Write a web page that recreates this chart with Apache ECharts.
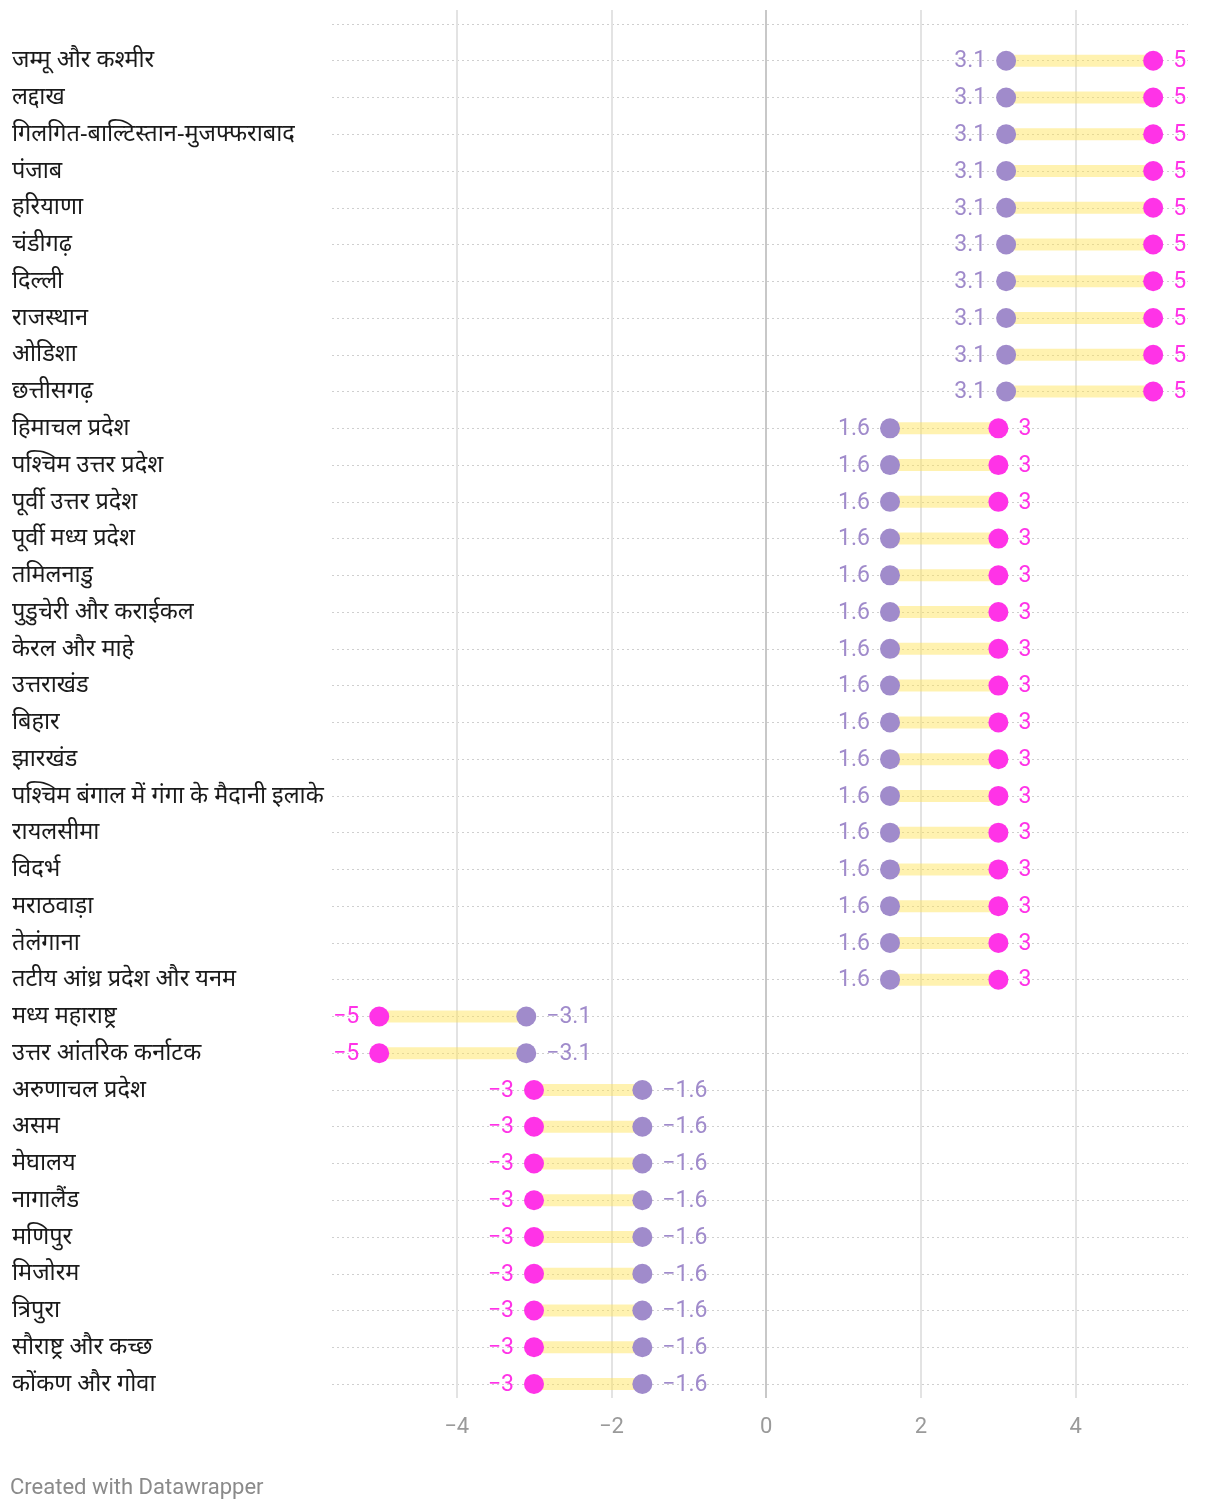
<!DOCTYPE html>
<html>
<head>
<meta charset="utf-8">
<script src="https://cdn.jsdelivr.net/npm/echarts@6/dist/echarts.min.js"></script>
<style>
  html, body { margin: 0; padding: 0; background: #fff; }
  #chart { width: 1220px; height: 1512px; }
</style>
</head>
<body>
<div id="chart"></div>
<script>
// Categories, top to bottom
const regions = [
  'जम्मू और कश्मीर', 'लद्दाख', 'गिलगित-बाल्टिस्तान-मुजफ्फराबाद', 'पंजाब', 'हरियाणा',
  'चंडीगढ़', 'दिल्ली', 'राजस्थान', 'ओडिशा', 'छत्तीसगढ़',
  'हिमाचल प्रदेश', 'पश्चिम उत्तर प्रदेश', 'पूर्वी उत्तर प्रदेश', 'पूर्वी मध्य प्रदेश', 'तमिलनाडु',
  'पुडुचेरी और कराईकल', 'केरल और माहे', 'उत्तराखंड', 'बिहार', 'झारखंड',
  'पश्चिम बंगाल में गंगा के मैदानी इलाके', 'रायलसीमा', 'विदर्भ', 'मराठवाड़ा', 'तेलंगाना',
  'तटीय आंध्र प्रदेश और यनम', 'मध्य महाराष्ट्र', 'उत्तर आंतरिक कर्नाटक', 'अरुणाचल प्रदेश', 'असम',
  'मेघालय', 'नागालैंड', 'मणिपुर', 'मिजोरम', 'त्रिपुरा',
  'सौराष्ट्र और कच्छ', 'कोंकण और गोवा'
];
// Purple (inner) values
const innerValues = [
  3.1, 3.1, 3.1, 3.1, 3.1, 3.1, 3.1, 3.1, 3.1, 3.1,
  1.6, 1.6, 1.6, 1.6, 1.6, 1.6, 1.6, 1.6, 1.6, 1.6,
  1.6, 1.6, 1.6, 1.6, 1.6, 1.6,
  -3.1, -3.1,
  -1.6, -1.6, -1.6, -1.6, -1.6, -1.6, -1.6, -1.6, -1.6
];
// Magenta (outer) values
const outerValues = [
  5, 5, 5, 5, 5, 5, 5, 5, 5, 5,
  3, 3, 3, 3, 3, 3, 3, 3, 3, 3,
  3, 3, 3, 3, 3, 3,
  -5, -5,
  -3, -3, -3, -3, -3, -3, -3, -3, -3
];
const xTicks = [-4, -2, 0, 2, 4];

const PURPLE = '#a08bcb';
const MAGENTA = '#ff33e7';
const fmt = v => (v < 0 ? '\u2212' + Math.abs(v) : String(v));

// row index: 1..N (row 0 is an empty top row)
const rowIdx = regions.map((_, i) => i + 1);
const allRows = [0].concat(rowIdx);

const rangeData = regions.map((_, i) => [innerValues[i], outerValues[i], i + 1]);
const innerData = regions.map((_, i) => ({
  value: [innerValues[i], i + 1],
  label: { position: innerValues[i] >= 0 ? 'left' : 'right' }
}));
const outerData = regions.map((_, i) => ({
  value: [outerValues[i], i + 1],
  label: { position: outerValues[i] >= 0 ? 'right' : 'left' }
}));

const vLines = xTicks.map(t => ({
  xAxis: t,
  lineStyle: { color: t === 0 ? '#c8c8c8' : '#e3e3e3', width: 2, type: 'solid' }
}));
const hLines = allRows.map(r => ({
  yAxis: r,
  lineStyle: { color: '#cfcfcf', width: 1, type: [2, 3] }
}));

const chart = echarts.init(document.getElementById('chart'), null, { renderer: 'canvas' });
chart.setOption({
  animation: false,
  backgroundColor: '#ffffff',
  grid: { left: 332, right: 32, top: 10, bottom: 114, containLabel: false },
  xAxis: {
    type: 'value',
    min: -5.61,
    max: 5.45,
    axisLine: { show: false },
    axisTick: { show: false },
    splitLine: { show: false },
    axisLabel: {
      customValues: xTicks,
      formatter: v => fmt(v),
      color: '#9a9a9a',
      fontSize: 22,
      fontFamily: 'Roboto, sans-serif',
      margin: 18
    }
  },
  yAxis: {
    type: 'value',
    inverse: true,
    min: -0.38,
    max: regions.length + 0.38,
    axisLine: { show: false },
    splitLine: { show: false },
    axisTick: { show: false },
    axisLabel: {
      customValues: rowIdx,
      formatter: v => regions[Math.round(v) - 1] || '',
      align: 'left',
      margin: 320,
      padding: [4, 0, 0, 0],
      color: '#1a1a1a',
      fontSize: 23.5,
      fontFamily: '"Noto Sans", "Noto Sans Devanagari", sans-serif'
    }
  },
  series: [
    {
      type: 'custom',
      z: 2,
      data: rangeData,
      encode: { x: [0, 1], y: 2 },
      renderItem: function (params, api) {
        const p1 = api.coord([api.value(0), api.value(2)]);
        const p2 = api.coord([api.value(1), api.value(2)]);
        const x0 = Math.min(p1[0], p2[0]);
        const w = Math.abs(p2[0] - p1[0]);
        const h = 12;
        return {
          type: 'rect',
          shape: { x: x0, y: p1[1] - h / 2, width: w, height: h },
          style: { fill: 'rgba(255,226,80,0.45)' }
        };
      },
      markLine: {
        silent: true,
        symbol: 'none',
        label: { show: false },
        z: 1,
        data: hLines.concat(vLines)
      }
    },
    {
      type: 'scatter',
      z: 3,
      symbolSize: 20,
      itemStyle: { color: PURPLE, opacity: 1 },
      data: innerData,
      label: {
        show: true,
        formatter: p => fmt(p.value[0]),
        color: PURPLE,
        fontSize: 23,
        fontFamily: 'Roboto, sans-serif',
        distance: 10,
        offset: [0, 1]
      }
    },
    {
      type: 'scatter',
      z: 4,
      symbolSize: 20,
      itemStyle: { color: MAGENTA, opacity: 1 },
      data: outerData,
      label: {
        show: true,
        formatter: p => fmt(p.value[0]),
        color: MAGENTA,
        fontSize: 23,
        fontFamily: 'Roboto, sans-serif',
        distance: 10,
        offset: [0, 1]
      }
    }
  ],
  graphic: [
    {
      type: 'text',
      left: 10,
      top: 1477,
      style: {
        text: 'Created with Datawrapper',
        fill: '#8a8a8a',
        fontSize: 22,
        fontFamily: 'Roboto, sans-serif'
      }
    }
  ]
});
</script>
</body>
</html>
